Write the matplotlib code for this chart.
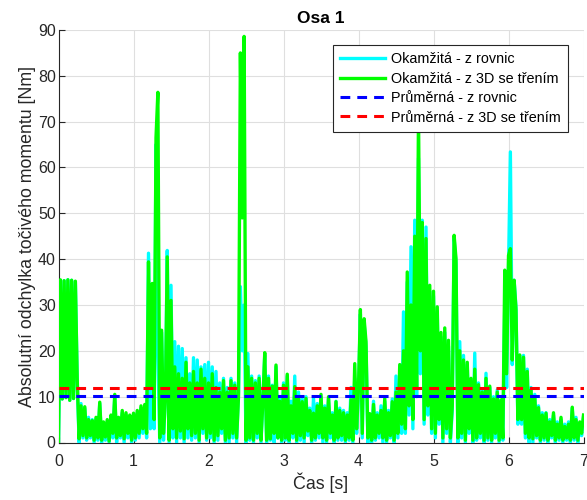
import numpy as np
import matplotlib
matplotlib.use("Agg")
import matplotlib.pyplot as plt

plt.rcParams['font.family'] = ['Liberation Sans', 'DejaVu Sans']

# ---- data (sampled every 0.025 s from 0 to 7 s) ----
dt = 0.025

okamzita_3d = [
    0.0, 35.5, 9.5, 35.3, 9.8, 35.5, 9.2, 35.4, 9.6, 35.2,
    13.5, 0.8, 8.0, 1.5, 7.8, 1.0, 5.0, 1.5, 4.8, 0.5,
    5.5, 1.0, 8.8, 0.5, 4.5, 1.2, 5.0, 0.3, 6.0, 2.0,
    10.5, 1.0, 5.5, 1.5, 7.0, 0.8, 6.5, 2.0, 6.0, 0.5,
    6.4, 1.0, 7.0, 2.0, 8.0, 3.0, 8.3, 2.0, 39.4, 12.0,
    34.7, 5.0, 66.5, 76.4, 1.0, 24.5, 2.0, 9.0, 40.5, 0.5,
    31.0, 3.0, 16.5, 1.0, 15.0, 2.5, 14.0, 0.8, 17.5, 3.0,
    13.0, 1.5, 15.5, 2.0, 13.0, 0.5, 16.0, 3.0, 14.0, 1.0,
    13.0, 2.0, 15.0, 0.5, 12.0, 1.5, 11.0, 3.0, 13.5, 0.5,
    11.0, 1.0, 13.5, 2.0, 12.5, 1.0, 10.0, 85.0, 49.0, 88.6,
    0.5, 16.5, 1.0, 14.0, 0.5, 13.0, 2.0, 14.0, 0.5, 9.0,
    19.6, 0.5, 14.0, 0.8, 12.3, 2.0, 16.9, 1.0, 9.0, 0.5,
    12.5, 1.0, 14.9, 0.5, 8.0, 2.0, 12.2, 0.5, 10.0, 1.5,
    8.9, 1.0, 9.6, 2.5, 7.0, 0.5, 6.4, 1.0, 8.0, 2.0,
    10.5, 1.0, 7.5, 0.5, 10.0, 2.0, 6.0, 0.5, 8.9, 1.0,
    7.0, 1.5, 6.5, 0.5, 6.0, 1.0, 9.3, 0.5, 17.2, 3.0,
    12.0, 29.0, 2.0, 27.0, 22.0, 1.0, 6.3, 0.5, 8.3, 1.0,
    6.0, 2.0, 7.0, 1.0, 9.6, 0.5, 6.5, 1.5, 8.9, 0.5,
    11.0, 2.0, 17.0, 4.0, 20.0, 3.0, 37.2, 8.0, 30.0, 5.0,
    45.0, 12.0, 72.0, 20.0, 48.0, 5.0, 44.5, 8.0, 34.3, 3.0,
    33.0, 2.0, 29.6, 5.0, 24.0, 1.0, 25.0, 3.0, 22.3, 1.0,
    8.0, 45.2, 40.1, 1.0, 20.0, 2.0, 18.0, 0.5, 17.5, 3.0,
    14.0, 0.5, 16.0, 1.0, 12.6, 2.0, 11.0, 0.5, 14.0, 1.0,
    12.3, 0.5, 9.5, 2.0, 11.0, 0.5, 9.3, 1.0, 37.6, 15.0,
    40.8, 42.3, 18.0, 35.4, 28.9, 5.0, 19.1, 5.0, 18.6, 2.0,
    15.5, 1.0, 11.5, 0.8, 10.0, 1.5, 7.6, 0.5, 6.0, 1.0,
    6.4, 0.5, 4.5, 1.5, 6.5, 0.5, 4.0, 1.0, 5.5, 0.5,
    3.5, 1.0, 4.0, 0.5, 7.7, 1.0, 5.0, 0.5, 4.5, 2.0,
    6.0,
]

okamzita_rovnice = [
    0.0, 35.0, 9.5, 35.3, 9.8, 35.5, 9.2, 35.4, 9.6, 35.0,
    13.0, 0.0, 8.5, 1.0, 7.5, 0.5, 5.5, 1.0, 5.0, 0.0,
    5.0, 0.5, 8.5, 0.0, 4.0, 0.5, 4.5, 0.0, 5.5, 1.0,
    10.0, 0.0, 5.0, 1.0, 6.5, 0.0, 6.0, 1.0, 5.5, 0.0,
    6.0, 0.5, 6.5, 1.0, 7.5, 2.0, 8.0, 1.0, 41.3, 3.0,
    34.0, 3.0, 65.0, 19.5, 0.0, 24.0, 0.5, 10.0, 41.9, 0.0,
    34.3, 1.0, 22.0, 0.0, 21.0, 1.0, 20.5, 0.0, 18.5, 1.0,
    15.0, 0.5, 18.5, 1.0, 18.0, 0.0, 16.5, 2.0, 17.0, 0.5,
    17.5, 1.0, 16.5, 0.0, 15.5, 0.5, 13.0, 2.0, 14.0, 0.0,
    12.0, 0.0, 14.0, 1.0, 13.0, 0.0, 11.0, 34.0, 20.0, 30.0,
    0.0, 19.4, 0.5, 14.5, 0.0, 13.5, 1.0, 14.5, 0.0, 9.5,
    19.0, 0.0, 14.5, 0.5, 12.5, 0.0, 16.5, 1.0, 9.5, 0.0,
    13.0, 0.5, 14.5, 0.0, 9.0, 1.0, 14.5, 0.0, 11.0, 0.5,
    9.5, 0.0, 10.0, 1.5, 7.5, 0.0, 9.7, 0.5, 8.5, 1.0,
    10.0, 0.0, 8.0, 0.0, 9.5, 1.0, 6.5, 0.0, 9.0, 0.5,
    7.5, 0.5, 7.0, 0.0, 6.5, 0.5, 12.0, 0.0, 14.0, 2.0,
    11.0, 28.0, 1.0, 26.0, 21.0, 0.0, 6.0, 0.0, 9.0, 0.5,
    6.5, 1.0, 8.0, 0.0, 9.0, 0.0, 7.0, 1.0, 9.5, 0.0,
    14.5, 1.0, 13.8, 2.0, 28.5, 2.0, 35.0, 6.0, 42.7, 3.0,
    48.5, 10.0, 62.0, 15.0, 48.5, 4.0, 47.0, 6.0, 33.0, 2.0,
    32.0, 1.0, 28.5, 4.0, 23.0, 0.0, 24.0, 2.0, 21.0, 0.0,
    7.0, 44.5, 39.0, 0.0, 22.0, 1.0, 19.0, 0.0, 17.0, 2.0,
    13.5, 0.0, 19.5, 0.5, 13.0, 1.0, 11.5, 0.0, 15.1, 0.5,
    12.0, 0.0, 10.0, 1.0, 11.5, 0.0, 9.0, 0.5, 30.0, 12.0,
    38.0, 63.4, 17.0, 35.4, 29.5, 4.0, 19.0, 4.0, 19.0, 1.0,
    16.0, 0.0, 12.0, 0.0, 10.5, 1.0, 8.0, 0.0, 6.5, 0.5,
    6.5, 0.0, 5.0, 1.0, 6.0, 0.0, 4.5, 0.5, 5.0, 0.0,
    4.0, 0.5, 4.5, 0.0, 7.5, 0.5, 5.5, 0.0, 4.0, 1.5,
    5.5,
]

prumerna_rovnice = 10.1
prumerna_3d = 12.0

series_labels = ["Okamžitá - z rovnic", "Okamžitá - z 3D se třením",
                 "Průměrná - z rovnic", "Průměrná - z 3D se třením"]
x_ticks = [0, 1, 2, 3, 4, 5, 6, 7]
y_ticks = [0, 10, 20, 30, 40, 50, 60, 70, 80, 90]

t = np.arange(len(okamzita_3d)) * dt

fig = plt.figure(figsize=(5.87, 5.0), dpi=100)
ax = fig.add_axes([58.5 / 587, 57.5 / 500, 525 / 587, 412.5 / 500])

dark = '#262626'
ax.plot(t, okamzita_rovnice, color='#00ffff', lw=2.4, label=series_labels[0], zorder=3)
ax.plot(t, okamzita_3d, color='#00ff00', lw=2.4, label=series_labels[1], zorder=4)
ax.plot([0, 7], [prumerna_rovnice] * 2, color='#0000ff', lw=2.2, dashes=(3.2, 2.3),
        label=series_labels[2], zorder=5)
ax.plot([0, 7], [prumerna_3d] * 2, color='#ff0000', lw=2.2, dashes=(3.2, 2.3),
        label=series_labels[3], zorder=5)

ax.set_xlim(0, 7)
ax.set_ylim(0, 90)
ax.set_xticks(x_ticks)
ax.set_yticks(y_ticks)
ax.grid(True, color='#dfdfdf', lw=0.8, zorder=0)
ax.set_axisbelow(True)
for s in ['top', 'right']:
    ax.spines[s].set_visible(False)
for s in ['left', 'bottom']:
    ax.spines[s].set_color(dark)
    ax.spines[s].set_linewidth(0.8)
ax.tick_params(direction='in', length=4, width=0.8, colors=dark, labelsize=11.5,
               labelcolor=dark)
ax.tick_params(axis='x', pad=8)
ax.tick_params(axis='y', pad=2)

ax.set_title("Osa 1", fontsize=12.5, fontweight='bold', color='black', pad=5)
ax.set_xlabel("Čas [s]", fontsize=12.8, color=dark, labelpad=3)
ax.set_ylabel("Absolutní odchylka točivého momentu [Nm]", fontsize=12.8, color=dark, labelpad=1)

leg = ax.legend(loc='upper right', bbox_to_anchor=(0.971, 0.964), borderaxespad=0,
                prop={'size': 10.4}, frameon=True, fancybox=False, framealpha=1,
                edgecolor=dark, handlelength=3.1, handletextpad=0.45,
                labelspacing=0.38, borderpad=0.5)
leg.get_frame().set_linewidth(0.8)
leg.set_zorder(10)

fig.savefig("out.png", dpi=100)
